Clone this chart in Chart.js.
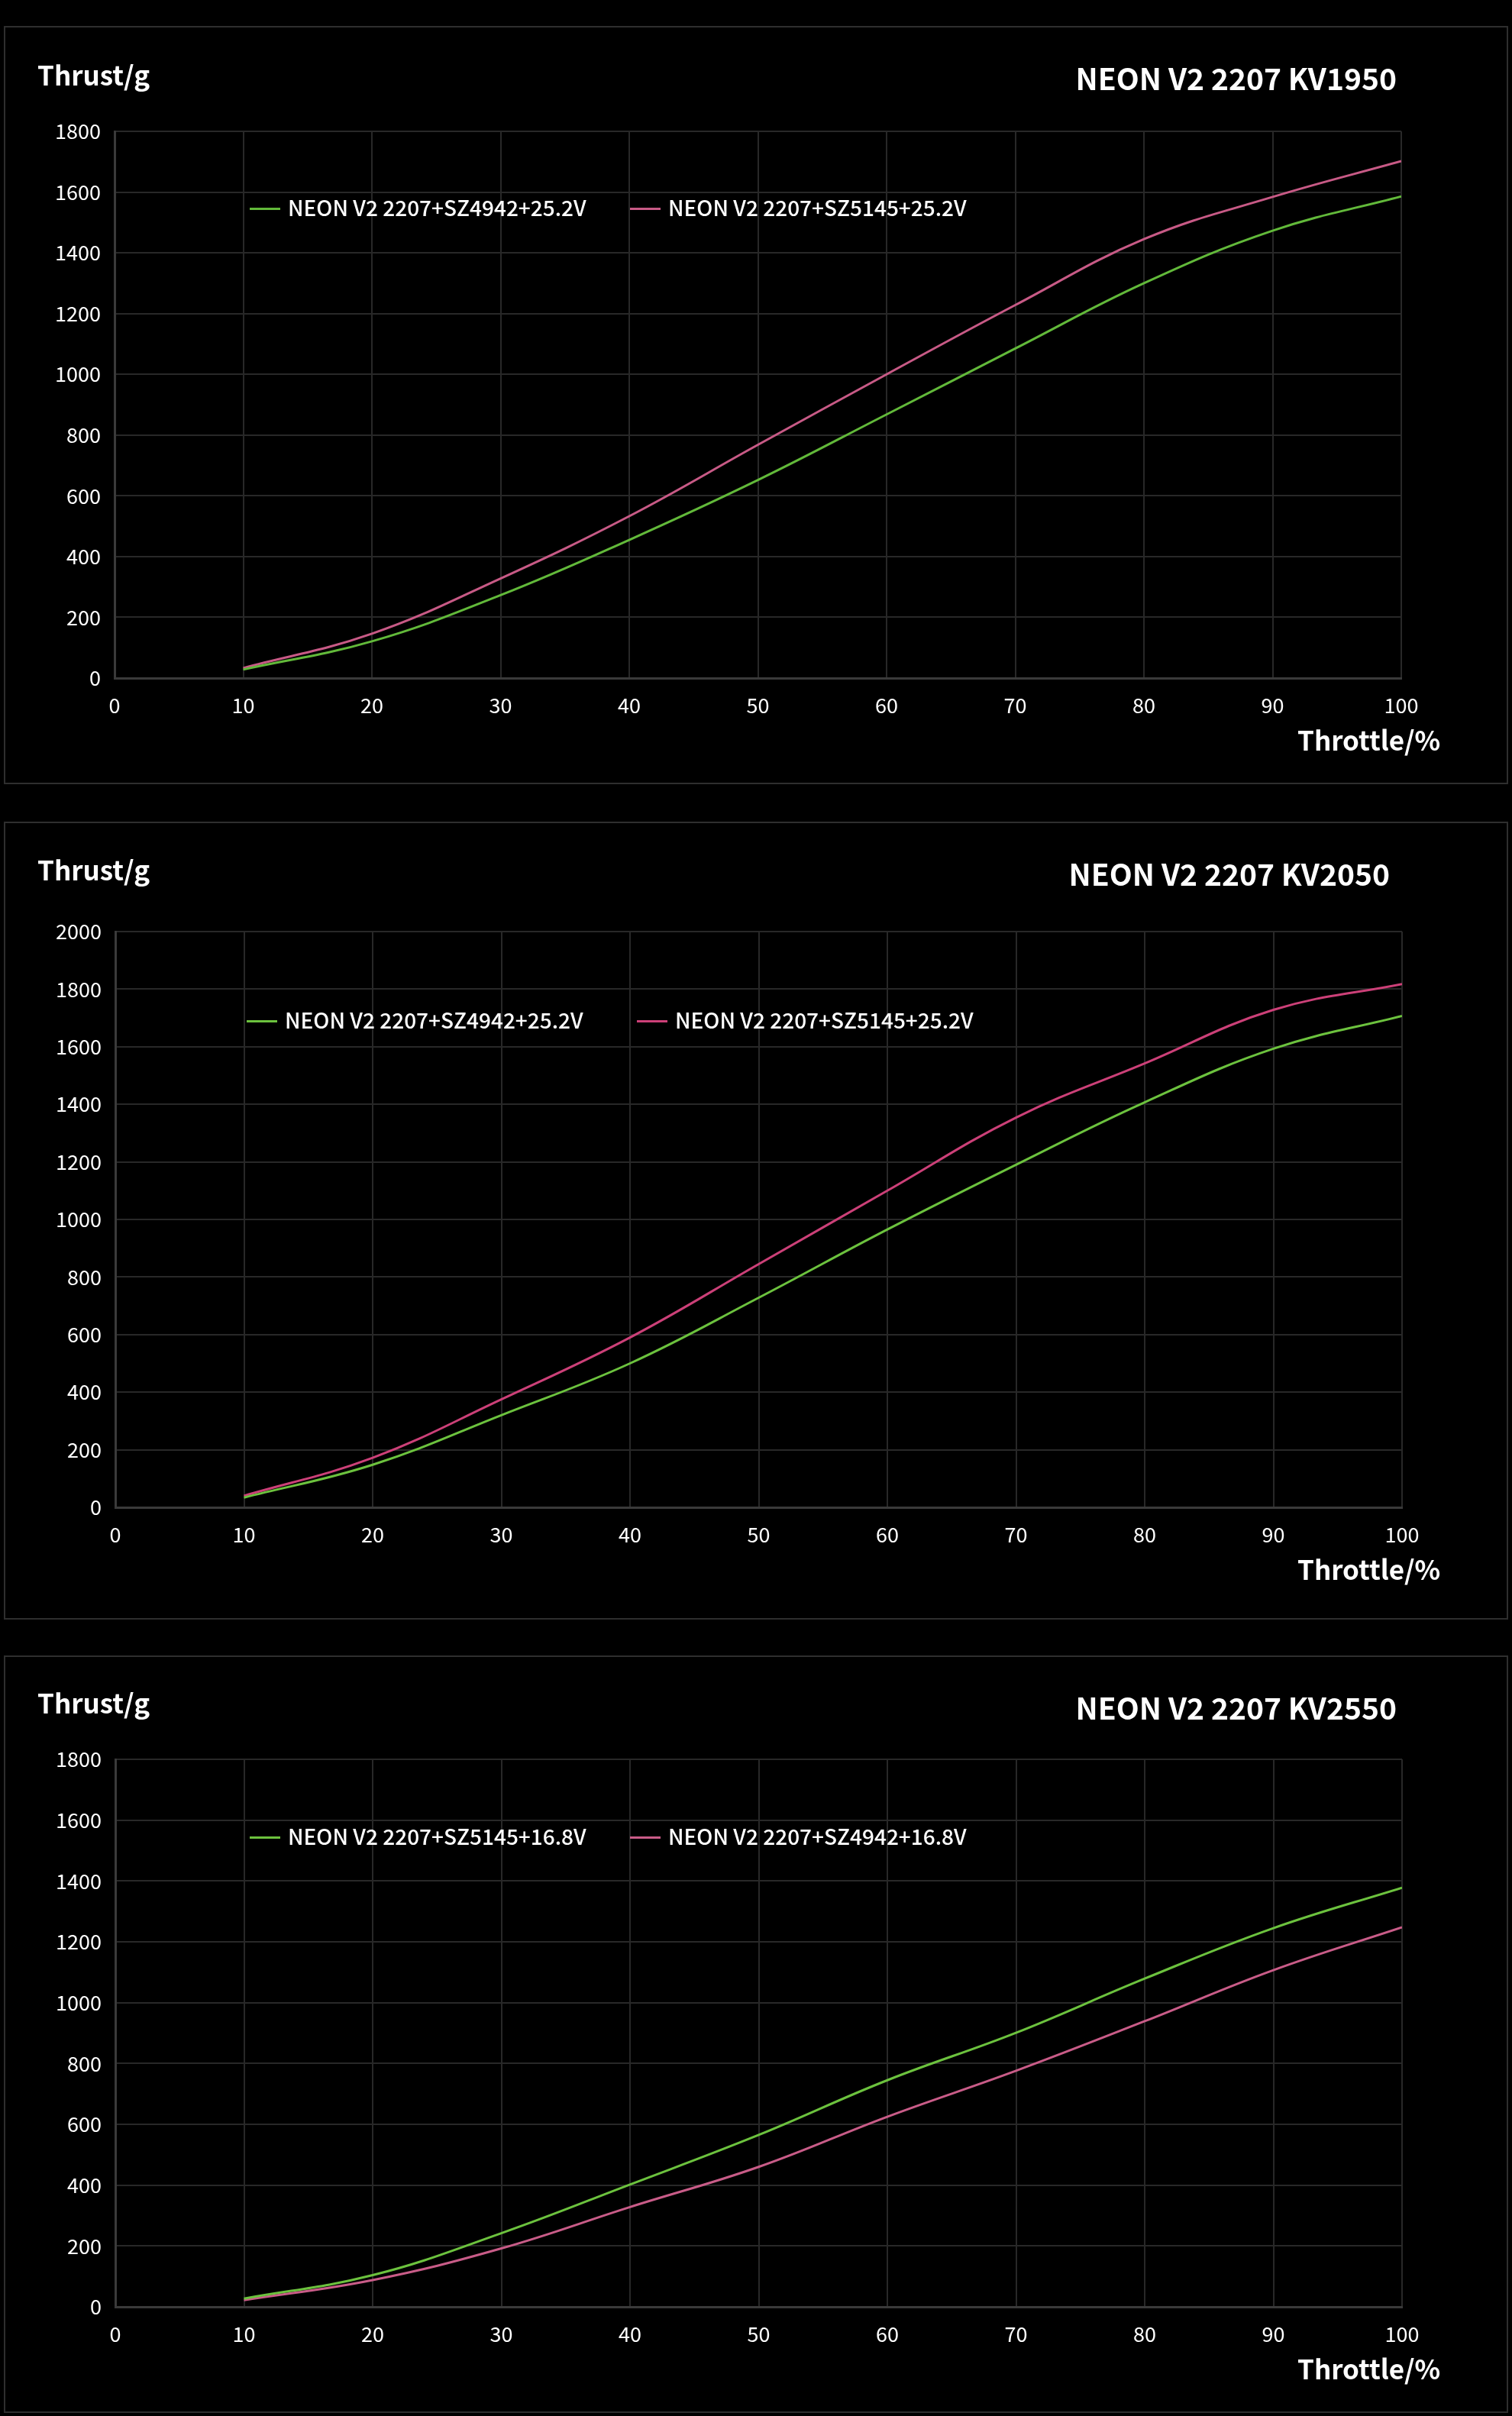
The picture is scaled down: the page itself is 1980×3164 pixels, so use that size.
<!DOCTYPE html>
<html>
<head>
<meta charset="utf-8">
<script src="https://cdn.jsdelivr.net/npm/chart.js@4.4.1/dist/chart.umd.min.js"></script>
<style>
  html, body { margin: 0; padding: 0; background: #000; }
  body { width: 1980px; height: 3164px; position: relative; overflow: hidden; font-family: 'Noto Sans CJK SC', 'Noto Sans', sans-serif; color: #fff; }
  .panel { position: absolute; border: 2px solid #2e2e2e; box-sizing: border-box; }
  canvas.c { position: absolute; left: 0; }
  .t { position: absolute; line-height: 1; white-space: nowrap; color: #fff; }
  .lg { position: absolute; height: 3px; }
</style>
</head>
<body>
<div class="panel" style="left:5px; top:34px; width:1970px; height:993px;"></div>
<div class="panel" style="left:5px; top:1076px; width:1970px; height:1045px;"></div>
<div class="panel" style="left:5px; top:2168px; width:1970px; height:992px;"></div>

<canvas id="c1" class="c" style="top:0px;"></canvas>
<canvas id="c2" class="c" style="top:1050px;"></canvas>
<canvas id="c3" class="c" style="top:2145px;"></canvas>

<div id="texts"></div>

<script>
// ---------------- DATA ----------------
const throttle = [10, 20, 30, 40, 50, 60, 70, 80, 90, 100];
const xTicks = [0, 10, 20, 30, 40, 50, 60, 70, 80, 90, 100];

const titles = ['NEON V2 2207 KV1950', 'NEON V2 2207 KV2050', 'NEON V2 2207 KV2550'];
const yLabel = 'Thrust/g';
const xLabel = 'Throttle/%';

// Panel 1: KV1950
const kv1950Names = ['NEON V2 2207+SZ4942+25.2V', 'NEON V2 2207+SZ5145+25.2V'];
const kv1950_SZ4942 = [28, 121, 273, 455, 652, 868, 1085, 1300, 1473, 1586];
const kv1950_SZ5145 = [33, 146, 328, 533, 768, 1000, 1228, 1445, 1584, 1702];
const kv1950Max = 1800;

// Panel 2: KV2050
const kv2050Names = ['NEON V2 2207+SZ4942+25.2V', 'NEON V2 2207+SZ5145+25.2V'];
const kv2050_SZ4942 = [34, 148, 320, 500, 728, 965, 1190, 1407, 1593, 1707];
const kv2050_SZ5145 = [40, 172, 375, 590, 845, 1100, 1354, 1542, 1728, 1818];
const kv2050Max = 2000;

// Panel 3: KV2550
const kv2550Names = ['NEON V2 2207+SZ5145+16.8V', 'NEON V2 2207+SZ4942+16.8V'];
const kv2550_SZ5145 = [27, 104, 242, 402, 565, 745, 901, 1079, 1245, 1378];
const kv2550_SZ4942 = [22, 88, 192, 328, 460, 625, 776, 939, 1107, 1248];
const kv2550Max = 1800;

// ---------------- STYLE ----------------
const FONT = "'Noto Sans CJK SC', 'Noto Sans', sans-serif";
Chart.defaults.font.family = FONT;

const panels = [
  { id: 'c1', h: 1050, pad: { left: 50, right: 145, top: 172, bottom: 102 }, max: kv1950Max,
    series: [kv1950_SZ4942, kv1950_SZ5145], names: kv1950Names, colors: ['#62b93a', '#c85a86'] },
  { id: 'c2', h: 1095, pad: { left: 51, right: 144, top: 170, bottom: 111 }, max: kv2050Max,
    series: [kv2050_SZ4942, kv2050_SZ5145], names: kv2050Names, colors: ['#6cc23e', '#cc4078'] },
  { id: 'c3', h: 1019, pad: { left: 51, right: 144, top: 159, bottom: 83 }, max: kv2550Max,
    series: [kv2550_SZ5145, kv2550_SZ4942], names: kv2550Names, colors: ['#6cc23e', '#c95c88'] },
];

panels.forEach(p => {
  const cv = document.getElementById(p.id);
  cv.width = 1980; cv.height = p.h;
  cv.style.width = '1980px'; cv.style.height = p.h + 'px';
  new Chart(cv, {
    type: 'line',
    data: {
      datasets: p.series.map((vals, i) => ({
        label: p.names[i],
        data: throttle.map((t, k) => ({ x: t, y: vals[k] })),
        borderColor: p.colors[i],
        backgroundColor: p.colors[i],
        borderWidth: 3,
        pointRadius: 0,
        tension: 0.4,
        fill: false,
      }))
    },
    options: {
      responsive: false,
      animation: false,
      devicePixelRatio: 1,
      layout: { padding: p.pad },
      plugins: { legend: { display: false }, title: { display: false }, tooltip: { enabled: false } },
      scales: {
        x: {
          type: 'linear', min: 0, max: 100,
          afterBuildTicks: s => { s.ticks = xTicks.map(v => ({ value: v })); },
          afterFit: s => { s.height = 60; },
          ticks: { color: '#ffffff', font: { size: 27, family: FONT }, padding: 20, maxRotation: 0,
                   callback: v => String(v) },
          grid: { color: '#282828', lineWidth: 2, drawTicks: false },
          border: { color: '#3a3a3a', width: 3 }
        },
        y: {
          min: 0, max: p.max,
          afterFit: s => { s.width = 100; },
          ticks: { stepSize: 200, color: '#ffffff', font: { size: 27, family: FONT }, padding: 18,
                   callback: v => String(v) },
          grid: { color: '#282828', lineWidth: 2, drawTicks: false },
          border: { color: '#3a3a3a', width: 3 }
        }
      }
    }
  });
});

// ---------------- HTML TEXT ----------------
const texts = document.getElementById('texts');
function addText(str, x, baseline, fs, weight, align) {
  const d = document.createElement('div');
  d.className = 't';
  d.textContent = str;
  d.style.fontSize = fs + 'px';
  d.style.fontWeight = weight;
  d.style.top = (baseline - 0.936 * fs) + 'px';
  if (align === 'right') { d.style.right = (1980 - x) + 'px'; d.style.textAlign = 'right'; }
  else d.style.left = x + 'px';
  texts.appendChild(d);
}
function addLegend(x, y, color, str) {
  const l = document.createElement('div');
  l.className = 'lg';
  l.style.left = x + 'px'; l.style.top = (y - 1.5) + 'px'; l.style.width = '40px';
  l.style.background = color;
  texts.appendChild(l);
  addText(str, x + 50, y + 10, 28, 500, 'left');
}

const yl = [112, 1153, 2244];
const tb = [119, 1161, 2253];
const tr = [1829, 1820, 1829];
const xb = [983, 2069, 3116];
const lgY = [273, 1337, 2406];
const lgX = [[327, 825], [323, 834], [327, 825]];
panels.forEach((p, i) => {
  addText(yLabel, 49, yl[i], 35, 700, 'left');
  addText(titles[i], tr[i], tb[i], 39, 700, 'right');
  addText(xLabel, 1699, xb[i], 35, 700, 'left');
  addLegend(lgX[i][0], lgY[i], p.colors[0], p.names[0]);
  addLegend(lgX[i][1], lgY[i], p.colors[1], p.names[1]);
});
</script>
</body>
</html>
